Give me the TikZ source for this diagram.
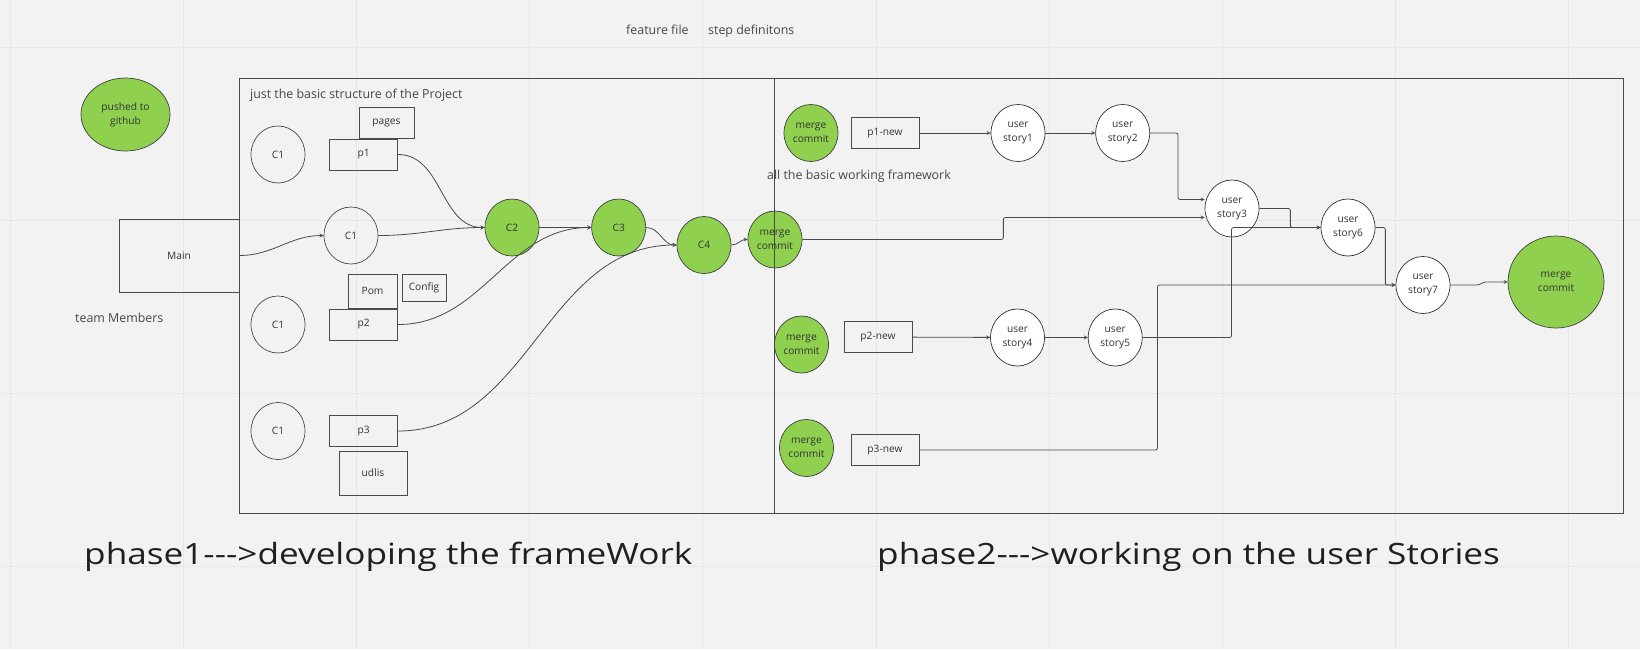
\documentclass[tikz,border=0pt]{standalone}
\usepackage{fontspec}
\setmainfont{Open Sans}
\newfontfamily\phasefont{Open Sans}[FakeStretch=1.2]
\usetikzlibrary{shapes.geometric, arrows, positioning, fit}

\definecolor{canvas}{HTML}{F2F2F2}
\definecolor{gridline}{HTML}{E7E7E7}
\definecolor{mirogreen}{HTML}{8FD14F}
\definecolor{inkgray}{HTML}{4A4A4A}
\definecolor{textgray}{HTML}{333333}

\tikzstyle{commit} = [ellipse, minimum width=54pt, minimum height=57pt, inner sep=0pt, text centered, align=center, draw=inkgray, line width=0.7pt, font=\fontsize{10.2}{14}\selectfont, text=textgray]
\tikzstyle{merged} = [commit, draw=black!75, fill=mirogreen]
\tikzstyle{story} = [commit, draw=black!80, fill=white]
\tikzstyle{filebox} = [rectangle, minimum width=68pt, minimum height=31pt, inner sep=0pt, text centered, draw=inkgray, line width=0.8pt, font=\fontsize{10.2}{14}\selectfont, text=textgray]
\tikzstyle{phase} = [rectangle, draw=inkgray, line width=0.9pt, inner sep=0pt]
\tikzstyle{note} = [anchor=base west, inner sep=0pt, font=\fontsize{12.4}{15}\selectfont, text=textgray!90]
\tikzstyle{heading} = [anchor=base west, inner sep=0pt, font=\phasefont\fontsize{29.3}{35}\selectfont, text=black!88]
\tikzstyle{arrow} = [line width=0.8pt, draw=inkgray, ->, >=stealth, rounded corners=2pt]

\begin{document}
\begin{tikzpicture}[x=1pt, y=-1pt, node distance=24pt]
\useasboundingbox (0,0) rectangle (1640,649);
% board background
\fill[canvas] (0,0) rectangle (1640,649);
\foreach \gx in {10,183.2,...,1600} \draw[gridline, line width=0.8pt] (\gx,0) -- (\gx,649);
\foreach \gy in {47,220.2,...,649} \draw[gridline, line width=0.8pt] (0,\gy) -- (1640,\gy);

\node (feature) [note] at (626,34) {feature file};
\node (stepdefs) [note] at (708,34) {step definitons};

\node (github) [merged, minimum width=89pt, minimum height=73pt] at (125.5,114.5) {pushed to\\github};
\node (main) [filebox, minimum width=120pt, minimum height=73pt] at (179,255.5) {Main};
\node (team) [note] at (75,322) {team Members};

% phase 1
\node (structure) [note] at (250,98) {just the basic structure of the Project};
\node (conea) [commit] at (278,154.5) {C1};
\node (pone) [filebox, right=of conea] {p1};
\node (pages) [filebox, minimum width=55pt] at (386.5,122.5) {pages};
\node (coneb) [commit] at (351,235.5) {C1};
\node (conec) [commit] at (278,324.5) {C1};
\node (ptwo) [filebox, right=of conec] {p2};
\node (pom) [filebox, minimum width=49pt, minimum height=34pt] at (372.5,291) {Pom};
\node (config) [filebox, minimum width=44pt, minimum height=27pt] at (424,287.5) {Config};
\node (coned) [commit] at (278,431) {C1};
\node (pthree) [filebox, right=of coned] {p3};
\node (udlis) [filebox, minimum height=44pt] at (373,473) {udlis};

\node (ctwo) [merged] at (512,227.5) {C2};
\node (cthree) [merged, right=52pt of ctwo] {C3};
\node (cfour) [merged] at (704,245) {C4};
\node (mzero) [merged] at (775,239.5) {merge\\commit};

% phase 2
\node (basic) [note] at (767,179) {all the basic working framework};
\node (mone) [merged] at (811,133) {merge\\commit};
\node (ponenew) [filebox] at (885,133) {p1-new};
\node (usone) [story] at (1018,133) {user\\story1};
\node (ustwo) [story, right=50pt of usone] {user\\story2};
\node (usthree) [story] at (1232,208.5) {user\\story3};
\node (ussix) [story] at (1348,227.5) {user\\story6};
\node (usseven) [story] at (1423,285) {user\\story7};
\node (mend) [merged, minimum width=96pt, minimum height=92pt] at (1556,282) {merge\\commit};
\node (mtwo) [merged] at (801.5,344.5) {merge\\commit};
\node (ptwonew) [filebox] at (878,337) {p2-new};
\node (usfour) [story] at (1017.5,337.5) {user\\story4};
\node (usfive) [story, right=43pt of usfour] {user\\story5};
\node (mthree) [merged] at (806.5,448) {merge\\commit};
\node (pthreenew) [filebox] at (885,450) {p3-new};

\coordinate (onenw) at (239,78);
\coordinate (onese) at (774,513);
\coordinate (twonw) at (774,78);
\coordinate (twose) at (1623,513);
\node (phaseone) [phase, fit=(onenw) (onese)] {};
\node (phasetwo) [phase, fit=(twonw) (twose)] {};

\node (headone) [heading] at (84,564) {phase1-{}-{}->developing the frameWork};
\node (headtwo) [heading] at (877,564) {phase2-{}-{}->working on the user Stories};

\draw [arrow] (main.east) to[out=0,in=180] (coneb.west);
\draw [arrow] (coneb.east) to[out=0,in=180] (ctwo.west);
\draw [arrow] (pone.east) to[out=0,in=180] (ctwo.west);
\draw [arrow] (ctwo.east) -- (cthree.west);
\draw [arrow] (ptwo.east) to[out=0,in=180] (cthree.west);
\draw [arrow] (cthree.east) to[out=0,in=180] (cfour.west);
\draw [arrow] (pthree.east) to[out=0,in=180] (cfour.west);
\draw [arrow] (cfour.east) to[out=0,in=180] (mzero.west);

\draw [arrow] (ponenew) -- (usone);
\draw [arrow] (usone) -- (ustwo);
\draw [arrow] (ptwonew) -- (usfour);
\draw [arrow] (usfour) -- (usfive);
\draw [arrow] (ustwo.east) -- ++(28,0) |- ([yshift=9pt]usthree.west);
\draw [arrow] (mzero.east) -- ++(201,0) |- ([yshift=-9pt]usthree.west);
\draw [arrow] (usthree.east) -- ++(31,0) |- (ussix.west);
\draw [arrow] (usfive.east) -- ++(89,0) |- (ussix.west);
\draw [arrow] (ussix.east) -- ++(10,0) |- (usseven.west);
\draw [arrow] (pthreenew.east) -- ++(238,0) |- (usseven.west);
\draw [arrow] (usseven.east) -- ++(29,0) -- ++(4,-3) -- (mend.west);

\end{tikzpicture}
\end{document}
